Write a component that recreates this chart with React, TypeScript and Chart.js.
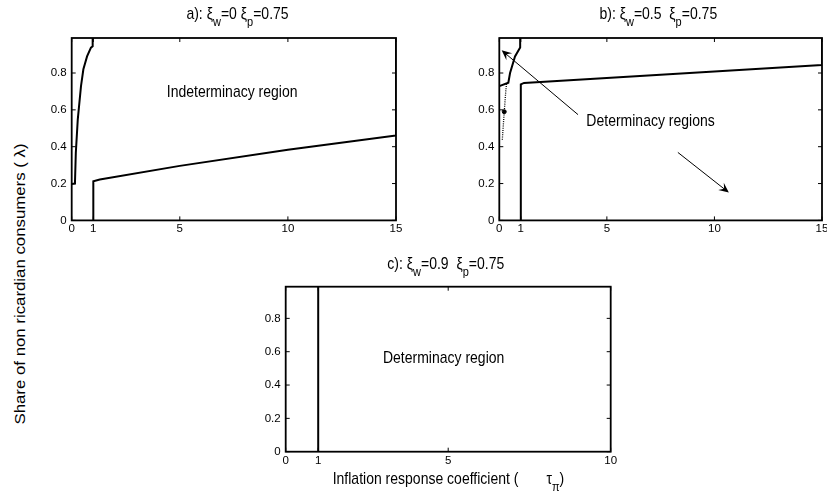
import React, { useEffect, useRef } from 'react';
import { Chart, registerables } from 'chart.js';

Chart.register(...registerables);

const FONT = "'Liberation Sans', Arial, Helvetica, sans-serif";

// ---------- data ----------
// Panel a: xi_w = 0, xi_p = 0.75
const aLeftX = [0, 0.15, 0.19, 0.28, 0.43, 0.54, 0.71, 0.89, 0.97, 0.97];
const aLeftY = [0.197, 0.2, 0.366, 0.547, 0.729, 0.82, 0.89, 0.938, 0.945, 0.99];
const aRightX = [1, 1, 1.3, 5, 10, 15, 15];
const aRightY = [0, 0.213, 0.222, 0.296, 0.384, 0.461, 0.99];

// Panel b: xi_w = 0.5, xi_p = 0.75
const bLeftX = [0, 0.42, 0.5, 0.73, 0.97, 0.97];
const bLeftY = [0.729, 0.747, 0.8, 0.89, 0.938, 0.99];
const bDotX = [0.14, 0.23, 0.3, 0.34];
const bDotY = [0.438, 0.59, 0.7, 0.745];
const bMarkX = [0.23];
const bMarkY = [0.59];
const bRightX = [1, 1, 1.15, 15, 15];
const bRightY = [0, 0.738, 0.746, 0.843, 0.99];

// Panel c: xi_w = 0.9, xi_p = 0.75
const cLineX = [1, 1];
const cLineY = [0, 0.99];

// axes
const xTicksAB = [0, 1, 5, 10, 15];
const xTickLabelsAB = ['0', '1', '5', '10', '15'];
const xTicksC = [0, 1, 5, 10];
const xTickLabelsC = ['0', '1', '5', '10'];
const yTicks = [0, 0.2, 0.4, 0.6, 0.8];
const yTickLabels = ['0', '0.2', '0.4', '0.6', '0.8'];
const xMaxAB = 15;
const xMaxC = 10;
const yMax = 0.99;

// annotations (data coordinates)
const aNoteText = ['Indeterminacy region'];
const aNoteX = [7.42];
const aNoteY = [0.696];
const bNoteText = ['Determinacy regions'];
const bNoteX = [7.03];
const bNoteY = [0.537];
const cNoteText = ['Determinacy region'];
const cNoteX = [4.86];
const cNoteY = [0.559];
const bArrowFromX = [3.66, 8.3];
const bArrowFromY = [0.574, 0.369];
const bArrowToX = [0.11, 10.67];
const bArrowToY = [0.923, 0.151];

const toPts = (xs: number[], ys: number[]) => xs.map((x, i) => ({ x, y: ys[i] }));

const solid = (xs: number[], ys: number[]) => ({
  data: toPts(xs, ys),
  showLine: true,
  borderColor: '#000',
  borderWidth: 2,
  pointRadius: 0,
  fill: false,
  tension: 0,
});

type Area = { l: number; t: number; r: number; b: number };
type PanelProps = {
  left: number;
  top: number;
  width: number;
  height: number;
  area: Area;
  xMax: number;
  xTicks: number[];
  xLabels: string[];
  datasets: any[];
  notes: { text: string[]; x: number[]; y: number[] };
  arrows?: { fx: number[]; fy: number[]; tx: number[]; ty: number[] };
};

function makeFramePlugin(p: PanelProps) {
  return {
    id: 'frame',
    afterDatasetsDraw(chart: any) {
      const { ctx, chartArea } = chart;
      const { left, right, top, bottom } = chartArea;
      const xs = chart.scales.x;
      const ys = chart.scales.y;
      ctx.save();
      ctx.strokeStyle = '#000';
      ctx.fillStyle = '#000';
      // inward ticks
      ctx.lineWidth = 1;
      const tl = 4;
      ctx.beginPath();
      xs.ticks.forEach((t: any) => {
        const px = xs.getPixelForValue(t.value);
        ctx.moveTo(px, bottom);
        ctx.lineTo(px, bottom - tl);
        ctx.moveTo(px, top);
        ctx.lineTo(px, top + tl);
      });
      ys.ticks.forEach((t: any) => {
        const py = ys.getPixelForValue(t.value);
        ctx.moveTo(left, py);
        ctx.lineTo(left + tl, py);
        ctx.moveTo(right, py);
        ctx.lineTo(right - tl, py);
      });
      ctx.stroke();
      // box
      ctx.lineWidth = 1.8;
      ctx.strokeRect(left, top, right - left, bottom - top);
      // arrows
      if (p.arrows) {
        const a = p.arrows;
        a.fx.forEach((_, i) => {
          const x0 = xs.getPixelForValue(a.fx[i]);
          const y0 = ys.getPixelForValue(a.fy[i]);
          const x1 = xs.getPixelForValue(a.tx[i]);
          const y1 = ys.getPixelForValue(a.ty[i]);
          const ang = Math.atan2(y1 - y0, x1 - x0);
          const hl = 10;
          const hw = 4.5;
          ctx.lineWidth = 1;
          ctx.beginPath();
          ctx.moveTo(x0, y0);
          ctx.lineTo(x1 - Math.cos(ang) * 4, y1 - Math.sin(ang) * 4);
          ctx.stroke();
          ctx.save();
          ctx.translate(x1, y1);
          ctx.rotate(ang);
          ctx.beginPath();
          ctx.moveTo(0, 0);
          ctx.lineTo(-hl, -hw);
          ctx.lineTo(-hl * 0.6, 0);
          ctx.lineTo(-hl, hw);
          ctx.closePath();
          ctx.fill();
          ctx.restore();
        });
      }
      // notes
      ctx.font = `14px ${FONT}`;
      ctx.textAlign = 'center';
      ctx.textBaseline = 'middle';
      p.notes.text.forEach((txt, i) => {
        const px = xs.getPixelForValue(p.notes.x[i]);
        const py = ys.getPixelForValue(p.notes.y[i]);
        ctx.save();
        ctx.translate(px, py);
        ctx.scale(1, 1.15);
        ctx.fillText(txt, 0, 0);
        ctx.restore();
      });
      ctx.restore();
    },
  };
}

function Panel(p: PanelProps) {
  const ref = useRef<HTMLCanvasElement | null>(null);
  useEffect(() => {
    if (!ref.current) return;
    const yW = p.area.l - p.left;
    const xH = p.top + p.height - p.area.b;
    const chart = new Chart(ref.current, {
      type: 'scatter',
      data: { datasets: p.datasets },
      options: {
        animation: false,
        responsive: false,
        maintainAspectRatio: false,
        layout: {
          padding: {
            left: 0,
            top: p.area.t - p.top,
            right: p.left + p.width - p.area.r,
            bottom: 0,
          },
        },
        plugins: {
          legend: { display: false },
          tooltip: { enabled: false },
        },
        scales: {
          x: {
            type: 'linear',
            min: 0,
            max: p.xMax,
            grid: { display: false, drawTicks: false },
            border: { display: false },
            ticks: {
              font: { size: 11.5, family: FONT },
              color: '#000',
              padding: 2,
              maxRotation: 0,
              autoSkip: false,
              callback: (_v: any, i: number) => p.xLabels[i],
            },
            afterBuildTicks: (s: any) => {
              s.ticks = p.xTicks.map((v) => ({ value: v }));
            },
            afterFit: (s: any) => {
              s.height = xH;
              s.paddingLeft = 0;
              s.paddingRight = 0;
            },
          },
          y: {
            type: 'linear',
            min: 0,
            max: yMax,
            grid: { display: false, drawTicks: false },
            border: { display: false },
            ticks: {
              font: { size: 11.5, family: FONT },
              color: '#000',
              padding: 5,
              autoSkip: false,
              callback: (_v: any, i: number) => yTickLabels[i],
            },
            afterBuildTicks: (s: any) => {
              s.ticks = yTicks.map((v) => ({ value: v }));
            },
            afterFit: (s: any) => {
              s.width = yW;
              s.paddingTop = 0;
              s.paddingBottom = 0;
            },
          },
        },
      } as any,
      plugins: [makeFramePlugin(p) as any],
    });
    return () => chart.destroy();
  }, []);
  return (
    <canvas
      ref={ref}
      width={p.width}
      height={p.height}
      style={{ position: 'absolute', left: p.left, top: p.top, width: p.width, height: p.height }}
    />
  );
}

const textBase: React.CSSProperties = {
  position: 'absolute',
  fontFamily: FONT,
  fontSize: 14,
  lineHeight: '16px',
  color: '#000',
  whiteSpace: 'pre',
};

const subStyle: React.CSSProperties = {
  fontSize: 11,
  position: 'relative',
  top: 6,
};

function Title({ cx, baseline, label, w, p }: { cx: number; baseline: number; label: string; w: string; p: string }) {
  return (
    <div
      style={{
        ...textBase,
        left: cx - 150,
        width: 300,
        top: baseline - 12.9,
        textAlign: 'center',
        transform: 'scaleY(1.15)',
      }}
    >
      {label}: ξ<span style={subStyle}>w</span>={w}
      {w === '0' ? ' ' : '  '}ξ<span style={subStyle}>p</span>={p}
    </div>
  );
}

export default function App() {
  useEffect(() => {
    document.body.style.overflow = 'hidden';
    document.body.style.background = '#fff';
  }, []);

  const dsA = [solid(aLeftX, aLeftY), solid(aRightX, aRightY)];
  const dsB = [
    solid(bLeftX, bLeftY),
    {
      data: toPts(bDotX, bDotY),
      showLine: true,
      borderColor: '#000',
      borderWidth: 1.3,
      borderDash: [1, 1.2],
      pointRadius: 0,
      fill: false,
    },
    {
      data: toPts(bMarkX, bMarkY),
      showLine: false,
      pointRadius: 2,
      pointBackgroundColor: '#000',
      pointBorderColor: '#000',
    },
    solid(bRightX, bRightY),
  ];
  const dsC = [solid(cLineX, cLineY)];

  return (
    <div style={{ position: 'absolute', left: 0, top: 0, width: 827, height: 496, background: '#fff', overflow: 'hidden' }}>
      <Panel
        left={28}
        top={25}
        width={380}
        height={220}
        area={{ l: 71.7, t: 38, r: 396, b: 220.4 }}
        xMax={xMaxAB}
        xTicks={xTicksAB}
        xLabels={xTickLabelsAB}
        datasets={dsA}
        notes={{ text: aNoteText, x: aNoteX, y: aNoteY }}
      />
      <Panel
        left={455}
        top={25}
        width={372}
        height={220}
        area={{ l: 499.3, t: 38, r: 822.7, b: 220.4 }}
        xMax={xMaxAB}
        xTicks={xTicksAB}
        xLabels={xTickLabelsAB}
        datasets={dsB}
        notes={{ text: bNoteText, x: bNoteX, y: bNoteY }}
        arrows={{ fx: bArrowFromX, fy: bArrowFromY, tx: bArrowToX, ty: bArrowToY }}
      />
      <Panel
        left={240}
        top={275}
        width={385}
        height={200}
        area={{ l: 285.7, t: 286.7, r: 610.7, b: 451.7 }}
        xMax={xMaxC}
        xTicks={xTicksC}
        xLabels={xTickLabelsC}
        datasets={dsC}
        notes={{ text: cNoteText, x: cNoteX, y: cNoteY }}
      />

      <Title cx={237.5} baseline={18.3} label="a)" w="0" p="0.75" />
      <Title cx={658.3} baseline={18.3} label="b)" w="0.5" p="0.75" />
      <Title cx={445.8} baseline={268.3} label="c)" w="0.9" p="0.75" />

      {/* y-axis title */}
      <div
        style={{
          ...textBase,
          left: 19.5 - 150,
          top: 284 - 8,
          width: 300,
          height: 16,
          textAlign: 'center',
          transform: 'rotate(-90deg) scaleX(1.2)',
          transformOrigin: '50% 50%',
        }}
      >
        Share of non ricardian consumers ( λ)
      </div>

      {/* x-axis title */}
      <div style={{ ...textBase, left: 332.7, top: 483 - 12.9, transform: 'scaleY(1.15)' }}>
        Inflation response coefficient (
        <span style={{ display: 'inline-block', width: 28 }} />
        τ<span style={subStyle}>π</span>)
      </div>
    </div>
  );
}
